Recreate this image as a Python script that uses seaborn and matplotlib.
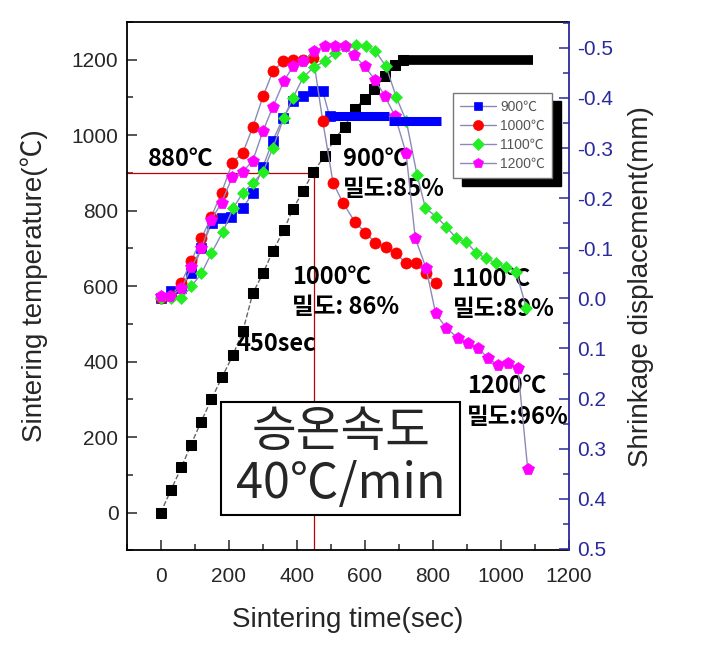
import matplotlib
matplotlib.use('Agg')
import matplotlib.pyplot as plt
from matplotlib.patches import Rectangle
from matplotlib.ticker import MultipleLocator, FuncFormatter
import seaborn as sns

sns.set_style('ticks')
plt.rcParams['font.family'] = ['Liberation Sans', 'Noto Sans CJK KR', 'DejaVu Sans']
plt.rcParams['axes.unicode_minus'] = False

# heating program (left axis, black squares)
heat_time = [0, 30, 61, 89, 119, 149, 181, 213, 242, 271, 301, 330, 362, 389,
             419, 448, 482, 512, 541, 571, 600, 629, 659, 688, 712]
heat_temp = [0, 60, 120, 180, 241, 300, 360, 418, 482, 581, 634, 693, 748, 804,
             852, 901, 944, 990, 1022, 1070, 1096, 1123, 1156, 1186, 1200]
hold_time = [712, 1094]
hold_temp = [1200, 1200]

# shrinkage displacement (right axis, mm)
t_900 = [0, 30, 60, 90, 120, 150, 180, 208, 242, 271, 301, 330, 360, 389, 419,
         448, 477, 497]
d_900 = [0, -0.014, -0.02, -0.05, -0.10, -0.15, -0.16, -0.163, -0.180, -0.211,
         -0.263, -0.315, -0.36, -0.393, -0.403, -0.413, -0.413, -0.363]
band_900_t1 = [497, 673]
band_900_d1 = [-0.363, -0.363]
band_900_t2 = [673, 824]
band_900_d2 = [-0.353, -0.353]

t_1000 = [0, 30, 60, 90, 120, 149, 179, 211, 242, 271, 301, 330, 360, 389, 419,
          449, 477, 507, 536, 571, 602, 632, 662, 693, 721, 752, 781, 811]
d_1000 = [0, -0.005, -0.03, -0.075, -0.120, -0.163, -0.211, -0.271, -0.291,
          -0.342, -0.403, -0.453, -0.473, -0.476, -0.476, -0.48, -0.353, -0.231,
          -0.191, -0.153, -0.131, -0.111, -0.102, -0.090, -0.070, -0.070, -0.05,
          -0.030]

t_1100 = [0, 30, 61, 90, 120, 149, 183, 213, 242, 271, 301, 330, 362, 389, 419,
          450, 482, 512, 546, 576, 605, 632, 663, 693, 723, 754, 779, 811, 840,
          870, 899, 929, 958, 987, 1017, 1046, 1076]
d_1100 = [0, 0, 0.0, -0.024, -0.050, -0.090, -0.133, -0.180, -0.211, -0.230,
          -0.253, -0.300, -0.360, -0.400, -0.441, -0.461, -0.473, -0.489, -0.503,
          -0.506, -0.503, -0.493, -0.463, -0.402, -0.353, -0.247, -0.180, -0.163,
          -0.143, -0.120, -0.113, -0.090, -0.080, -0.070, -0.063, -0.053, 0.020]

t_1200 = [0, 28, 61, 90, 120, 149, 179, 211, 242, 271, 301, 330, 362, 389, 420,
          450, 482, 512, 541, 568, 600, 631, 660, 690, 722, 749, 781, 809, 840,
          874, 904, 933, 963, 992, 1021, 1051, 1080]
d_1200 = [-0.004, -0.004, -0.020, -0.062, -0.100, -0.157, -0.191, -0.243, -0.253,
          -0.275, -0.334, -0.382, -0.433, -0.463, -0.473, -0.493, -0.503, -0.504,
          -0.504, -0.486, -0.463, -0.436, -0.403, -0.363, -0.290, -0.120, -0.060,
          0.030, 0.059, 0.079, 0.089, 0.099, 0.119, 0.133, 0.129, 0.139, 0.341]

series_labels = ['900℃', '1000℃', '1100℃', '1200℃']
guide_time = 450
guide_temp = 900

fig = plt.figure(figsize=(7.08, 6.6), dpi=100)
ax = fig.add_axes([0.179, 0.166, 0.624, 0.801])
ax2 = ax.twinx()

link = '#8a8ab8'
navy = '#2a2a9c'

# heating curve
sns.lineplot(x=heat_time, y=heat_temp, ax=ax, sort=False, estimator=None,
             color='#666666', linestyle='--', lw=1, marker='s', markersize=7.5,
             markerfacecolor='black', markeredgecolor='black')
ax.plot(hold_time, hold_temp, color='black', lw=7, solid_capstyle='butt')

# guide lines at 900C / 450 sec
ax.hlines(guide_temp, -100, guide_time, color='#c00000', lw=0.9, zorder=1)
ax.vlines(guide_time, -100, guide_temp, color='#c00000', lw=0.9, zorder=1)

# shrinkage curves
specs = [(t_900, d_900, 'blue', 's', 7),
         (t_1000, d_1000, 'red', 'o', 8),
         (t_1100, d_1100, '#22ee22', 'D', 6.5),
         (t_1200, d_1200, 'magenta', 'p', 8.5)]
for (t, d, c, m, ms), lab in zip(specs, series_labels):
    sns.lineplot(x=t, y=d, ax=ax2, sort=False, estimator=None, color=link, lw=1,
                 marker=m, markersize=ms, markerfacecolor=c, markeredgecolor=c,
                 markeredgewidth=0.5, label=lab)
ax2.plot(band_900_t1, band_900_d1, color='blue', lw=6.5, solid_capstyle='butt')
ax2.plot(band_900_t2, band_900_d2, color='blue', lw=6.5, solid_capstyle='butt')

# axes
ax.set_xlim(-100, 1200)
ax.set_ylim(-100, 1300)
ax2.set_ylim(0.503, -0.552)
ax.xaxis.set_major_locator(MultipleLocator(200))
ax.xaxis.set_minor_locator(MultipleLocator(100))
ax.yaxis.set_major_locator(MultipleLocator(200))
ax.yaxis.set_minor_locator(MultipleLocator(100))
ax2.yaxis.set_major_locator(MultipleLocator(0.1))
ax2.yaxis.set_minor_locator(MultipleLocator(0.05))
ax2.yaxis.set_major_formatter(FuncFormatter(lambda v, _: '0.0' if abs(v) < 1e-9 else f'{v:.1f}'))

ax.tick_params(which='major', direction='in', length=7, width=1.1, labelsize=15,
               top=False, right=False, pad=6)
ax.tick_params(axis='x', which='major', pad=12)
ax.tick_params(which='minor', direction='in', length=4, width=1.1, top=False, right=False)
ax2.tick_params(axis='y', which='major', direction='in', length=7, width=1.1,
                labelsize=15, colors=navy, pad=6)
ax2.tick_params(axis='y', which='minor', direction='in', length=4, width=1.1, colors=navy)

for s in ['left', 'top', 'bottom']:
    ax.spines[s].set_linewidth(1.3)
    ax.spines[s].set_color('black')
    ax2.spines[s].set_visible(False)
ax.spines['right'].set_visible(False)
ax2.spines['right'].set_color(navy)
ax2.spines['right'].set_linewidth(1.3)

ax.set_xlabel('Sintering time(sec)', fontsize=20, labelpad=15)
ax.set_ylabel('Sintering temperature(℃)', fontsize=20, labelpad=17)
ax2.set_ylabel('Shrinkage displacement(mm)', fontsize=20, labelpad=11)

# annotations
ann = dict(fontsize=17, fontweight='bold', family=['Noto Sans CJK KR'],
           ha='left', va='center', color='black')
ax.text(-38, 936, '880℃', **ann)
ax.text(535, 936, '900℃', **ann)
ax.text(535, 858, '밀도:85%', **ann)
ax.text(388, 625, '1000℃', **ann)
ax.text(385, 546, '밀도: 86%', **ann)
ax.text(856, 619, '1100℃', **ann)
ax.text(859, 539, '밀도:89%', **ann)
ax.text(224, 446, '450sec', **ann)
ax.text(903, 335, '1200℃', **ann)
ax.text(900, 254, '밀도:96%', **ann)

ax.add_patch(Rectangle((178, -6), 704, 300, facecolor='white', edgecolor='black',
                       lw=1.5, zorder=3))
ax.text(530, 144, '승온속도\n40℃/min', fontsize=35, family=['Noto Sans CJK KR'],
        ha='center', va='center', linespacing=1.05, zorder=4)

# legend with offset black shadow
leg = ax2.legend(loc='upper left', bbox_to_anchor=(0.738, 0.865), borderaxespad=0,
                 fontsize=10, frameon=True, fancybox=False, edgecolor='#777777',
                 framealpha=1, borderpad=0.5, labelspacing=0.36, handlelength=2.6,
                 handletextpad=0.3, markerscale=0.9)
leg.get_frame().set_linewidth(1)
for txt in leg.get_texts():
    txt.set_color('#555555')
fig.canvas.draw()
bb = leg.get_window_extent()
W, H = fig.bbox.width, fig.bbox.height
ax2.add_patch(Rectangle(((bb.x0 + 9) / W, (bb.y0 - 8) / H), bb.width / W, bb.height / H,
                        transform=fig.transFigure, facecolor='black', edgecolor='black',
                        zorder=4.5, clip_on=False))

fig.savefig('out.png', dpi=100)
